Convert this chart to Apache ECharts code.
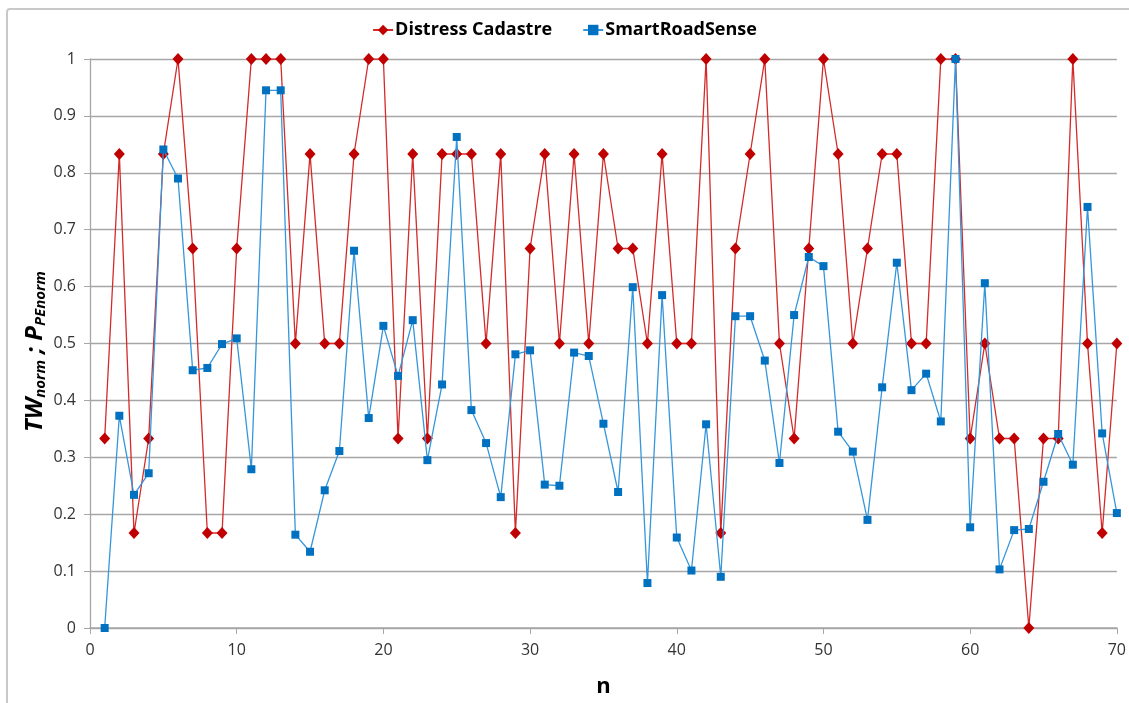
<!DOCTYPE html>
<html><head><meta charset="utf-8">
<script src="https://cdn.jsdelivr.net/npm/echarts@6/dist/echarts.min.js"></script>
<style>html,body{margin:0;padding:0;background:#fff}#c{width:1129px;height:703px}</style>
</head><body><div id="c"></div>
<script>
const n = [];
for (let i = 1; i <= 70; i++) n.push(i);
const distressCadastre = [0.333,0.833,0.167,0.333,0.833,1,0.667,0.167,0.167,0.667,
1,1,1,0.5,0.833,0.5,0.5,0.833,1,1,
0.333,0.833,0.333,0.833,0.833,0.833,0.5,0.833,0.167,0.667,
0.833,0.5,0.833,0.5,0.833,0.667,0.667,0.5,0.833,0.5,
0.5,1,0.167,0.667,0.833,1,0.5,0.333,0.667,1,
0.833,0.5,0.667,0.833,0.833,0.5,0.5,1,1,0.333,
0.5,0.333,0.333,0,0.333,0.333,1,0.5,0.167,0.5];
const smartRoadSense = [0,0.373,0.234,0.272,0.841,0.79,0.453,0.457,0.499,0.509,
0.279,0.945,0.945,0.164,0.134,0.242,0.311,0.663,0.369,0.531,
0.443,0.541,0.295,0.428,0.863,0.383,0.325,0.23,0.481,0.488,
0.252,0.25,0.484,0.478,0.359,0.239,0.599,0.079,0.585,0.159,
0.101,0.358,0.09,0.548,0.548,0.47,0.29,0.55,0.652,0.636,
0.345,0.31,0.19,0.423,0.642,0.418,0.447,0.363,1,0.177,
0.606,0.103,0.172,0.174,0.257,0.341,0.287,0.74,0.342,0.202];
const seriesNames = ['Distress Cadastre','SmartRoadSense'];
const xTicks = [0,10,20,30,40,50,60,70];

const font = '"Open Sans", "Noto Sans", sans-serif';
const chart = echarts.init(document.getElementById('c'), null, {renderer:'canvas'});
chart.setOption({
  animation:false,
  backgroundColor:'#fff',
  graphic:[{type:'rect', shape:{x:7,y:9,width:1200,height:800,r:3}, style:{fill:'none',stroke:'#c9c9c9',lineWidth:2}},
    {type:'text', left:23, top:'middle', rotation:Math.PI/2,
     style:{text:'{b|TW}{s|norm}{b| ; P}{s|PEnorm}', font:'bold italic 24px '+font, fill:'#000',
       rich:{b:{fontSize:24,fontWeight:'bold',fontStyle:'italic',fontFamily:font,lineHeight:30},
             s:{fontSize:15,fontWeight:'bold',fontStyle:'italic',fontFamily:font,lineHeight:30,padding:[10,0,0,0]}}}}],
  legend:{top:16, left:'center', itemGap:30, itemWidth:20, itemHeight:13,
    textStyle:{fontFamily:font,fontSize:18,fontWeight:'bold',color:'#000',padding:[0,0,0,-3]},
    data:seriesNames},
  grid:{left:90,right:9,top:59,bottom:74,containLabel:false},
  xAxis:{type:'value',min:0,max:70,interval:10,
    name:'n',nameLocation:'middle',nameGap:48,
    nameTextStyle:{fontFamily:font,fontSize:22,fontWeight:'bold',color:'#000'},
    axisLine:{lineStyle:{color:'#a6a6a6',width:1.5}},
    axisTick:{show:true,length:6,lineStyle:{color:'#a6a6a6'}},
    axisLabel:{fontFamily:font,fontSize:16,color:'#333',margin:14},
    splitLine:{show:false}},
  yAxis:{type:'value',min:0,max:1,interval:0.1,
    axisLine:{show:true,lineStyle:{color:'#a6a6a6',width:1.3}},
    axisTick:{show:true,length:6,lineStyle:{color:'#a6a6a6'}},
    axisLabel:{fontFamily:font,fontSize:16,color:'#333',margin:14},
    splitLine:{lineStyle:{color:'#a6a6a6',width:1.3}}},
  series:[
    {name:seriesNames[0],type:'line',data:n.map((x,i)=>[x,distressCadastre[i]]),
     symbol:'diamond',symbolSize:[11,12],
     itemStyle:{color:'#c00000'},lineStyle:{color:'#d42a2a',width:1.3},z:2},
    {name:seriesNames[1],type:'line',data:n.map((x,i)=>[x,smartRoadSense[i]]),
     symbol:'rect',symbolSize:8,
     itemStyle:{color:'#0070c0'},lineStyle:{color:'#3596db',width:1.3},z:3}
  ]
});
</script></body></html>
